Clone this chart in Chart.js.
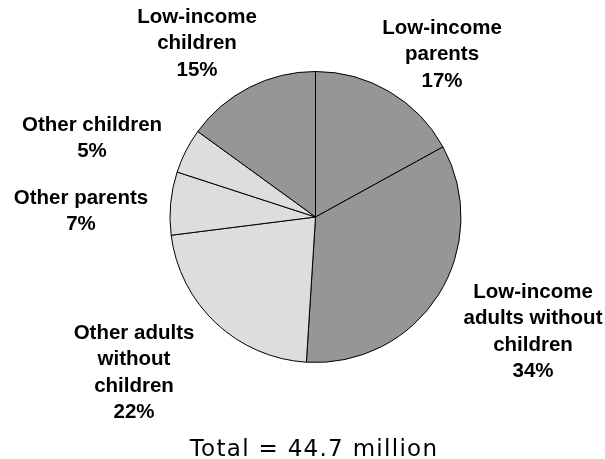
<!DOCTYPE html>
<html>
<head>
<meta charset="utf-8">
<script src="https://cdn.jsdelivr.net/npm/chart.js@4.4.1/dist/chart.umd.min.js"></script>
<style>
  html, body { margin: 0; padding: 0; background: #ffffff; }
  #wrap { width: 605px; height: 459px; position: relative; }
</style>
</head>
<body>
<div id="wrap"><canvas id="pie" width="605" height="459"></canvas></div>
<script>
// Uninsured population by group (percent of total), clockwise from 12 o'clock
const categories = [
  'Low-income parents',
  'Low-income adults without children',
  'Other adults without children',
  'Other parents',
  'Other children',
  'Low-income children'
];
const shares = [17, 34, 22, 7, 5, 15];
const labelLines = [
  ['Low-income', 'parents'],
  ['Low-income', 'adults without', 'children'],
  ['Other adults', 'without', 'children'],
  ['Other parents'],
  ['Other children'],
  ['Low-income', 'children']
];
const totalLabel = 'Total = 44.7 million';

const DARK = '#969696';
const LIGHT = '#dddddd';
const sliceColors = categories.map(c => c.startsWith('Low-income') ? DARK : LIGHT);

// Anchor (centre x, first-line y) for each slice label
const labelAnchors = [
  [442, 28],
  [533, 292],
  [134, 333],
  [81, 198],
  [92, 125],
  [197, 17]
];
const LINE_H = 26.5;

const labelPlugin = {
  id: 'sliceLabels',
  afterDraw(chart) {
    const ctx = chart.ctx;
    ctx.save();
    ctx.fillStyle = '#000000';
    ctx.textAlign = 'center';
    ctx.textBaseline = 'middle';
    ctx.font = 'bold 20.5px "Liberation Sans", Arial, sans-serif';
    const values = chart.data.datasets[0].data;
    labelLines.forEach((lines, i) => {
      const [x, y] = labelAnchors[i];
      const all = lines.concat([values[i] + '%']);
      all.forEach((t, k) => ctx.fillText(t, x, y + k * LINE_H));
    });
    ctx.font = '23px "DejaVu Sans", Verdana, sans-serif';
    ctx.textBaseline = 'alphabetic';
    if ('letterSpacing' in ctx) ctx.letterSpacing = '1.3px';
    ctx.fillText(totalLabel, 314, 456);
    ctx.restore();
  }
};

new Chart(document.getElementById('pie'), {
  type: 'pie',
  data: {
    labels: categories,
    datasets: [{
      data: shares,
      backgroundColor: sliceColors,
      borderColor: '#000000',
      borderWidth: 1,
      borderAlign: 'center'
    }]
  },
  options: {
    responsive: false,
    animation: false,
    events: [],
    layout: { padding: { left: 169, right: 143, top: 71, bottom: 96 } },
    plugins: {
      legend: { display: false },
      tooltip: { enabled: false },
      title: { display: false }
    }
  },
  plugins: [labelPlugin]
});
</script>
</body>
</html>
